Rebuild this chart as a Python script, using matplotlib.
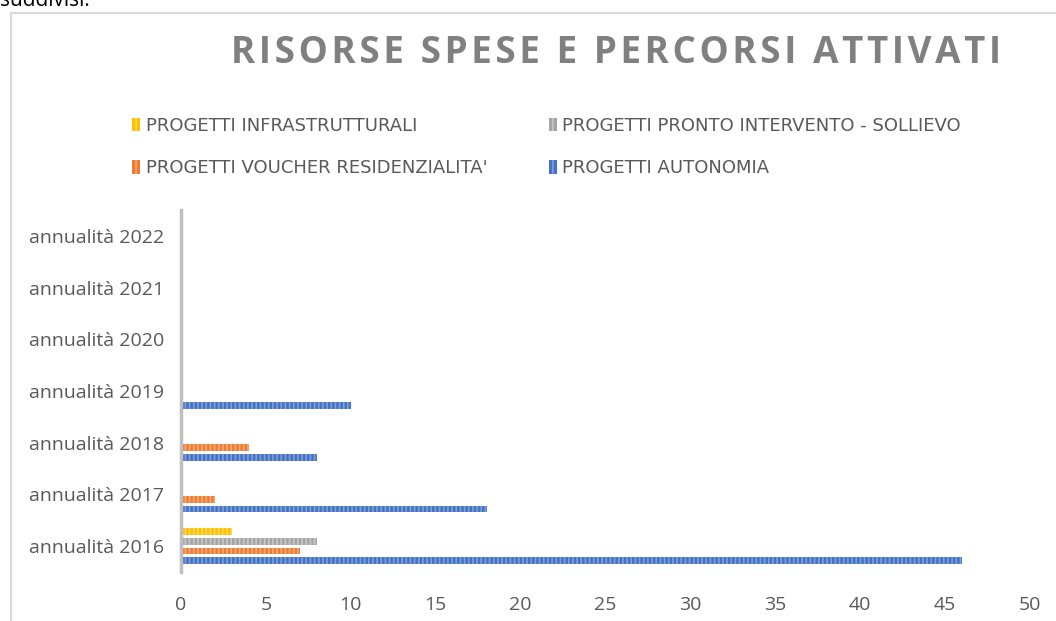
import numpy as np
import matplotlib.pyplot as plt
from matplotlib.patches import Rectangle, Patch

# data
years = ['annualità 2016', 'annualità 2017', 'annualità 2018', 'annualità 2019',
         'annualità 2020', 'annualità 2021', 'annualità 2022']
autonomia = [46, 18, 8, 10, 0, 0, 0]
voucher = [7, 2, 4, 0, 0, 0, 0]
pronto = [8, 0, 0, 0, 0, 0, 0]
infra = [3, 0, 0, 0, 0, 0, 0]
x_ticks = [0, 5, 10, 15, 20, 25, 30, 35, 40, 45, 50]

# series, bottom to top within a group
series = [
    ('PROGETTI AUTONOMIA', autonomia, '#4472C4', '#7f9fd9'),
    ("PROGETTI VOUCHER RESIDENZIALITA'", voucher, '#ED7D31', '#f3a97a'),
    ('PROGETTI PRONTO INTERVENTO - SOLLIEVO', pronto, '#A5A5A5', '#c8c8c8'),
    ('PROGETTI INFRASTRUTTURALI', infra, '#FFC000', '#ffd75a'),
]

plt.rcParams['hatch.linewidth'] = 1.2
txt = '#595959'

fig = plt.figure(figsize=(10.56, 6.21), dpi=100)
ax = fig.add_axes([181 / 1056, 49 / 621, 849 / 1056, 362 / 621])

y = np.arange(len(years))
step = 0.188
h = 0.126
for i, (name, vals, col, hcol) in enumerate(series):
    off = (i - 1.5) * step
    ax.barh(y + off, vals, height=h, color=col, edgecolor=hcol,
            hatch='||||', linewidth=0)

ax.set_xlim(0, 50)
ax.set_ylim(-0.5, 6.5)
ax.set_xticks(x_ticks)
ax.set_yticks(y)
ax.set_yticklabels(years)
ax.tick_params(axis='both', length=0, colors=txt, labelsize=14)
ax.tick_params(axis='y', pad=12)
ax.tick_params(axis='x', pad=17)
for lab in ax.get_xticklabels() + ax.get_yticklabels():
    lab.set_fontfamily('Open Sans')
for s in ['top', 'right', 'bottom']:
    ax.spines[s].set_visible(False)
ax.spines['left'].set_color('#bfbfbf')
ax.spines['left'].set_linewidth(2.5)

# title, letters spread a little with hair spaces
title = 'RISORSE SPESE E PERCORSI ATTIVATI'
fig.text(616 / 1056, 1 - 53 / 621, '\u200a'.join(title),
         ha='center', va='center', fontsize=26.5, fontweight='bold',
         color='#808080', fontfamily='Open Sans')

# legend
handles = {name: Patch(facecolor=col, edgecolor=hcol, hatch='|||', linewidth=0)
           for name, vals, col, hcol in series}
order = ['PROGETTI INFRASTRUTTURALI', "PROGETTI VOUCHER RESIDENZIALITA'",
         'PROGETTI PRONTO INTERVENTO - SOLLIEVO', 'PROGETTI AUTONOMIA']
leg = fig.legend([handles[n] for n in order], order, ncol=2,
                 loc='center left', bbox_to_anchor=(116 / 1056, 1 - 147 / 621),
                 frameon=False, handlelength=0.45, handleheight=0.75,
                 handletextpad=0.3, columnspacing=3.4, labelspacing=1.35,
                 prop={'family': 'DejaVu Sans', 'size': 13})
for t in leg.get_texts():
    t.set_color(txt)

# chart border and cut-off text from the page above
fig.add_artist(Rectangle((11 / 1056, -0.1), 1.2, 1 - 13 / 621 + 0.1,
                         transform=fig.transFigure, fill=False,
                         edgecolor='#d9d9d9', linewidth=1.5))
fig.text(0.0, 1.0, 'suddivisi.', ha='left', va='center', fontsize=15,
         color='black', fontfamily='Open Sans')

fig.savefig('out.png', dpi=100)
